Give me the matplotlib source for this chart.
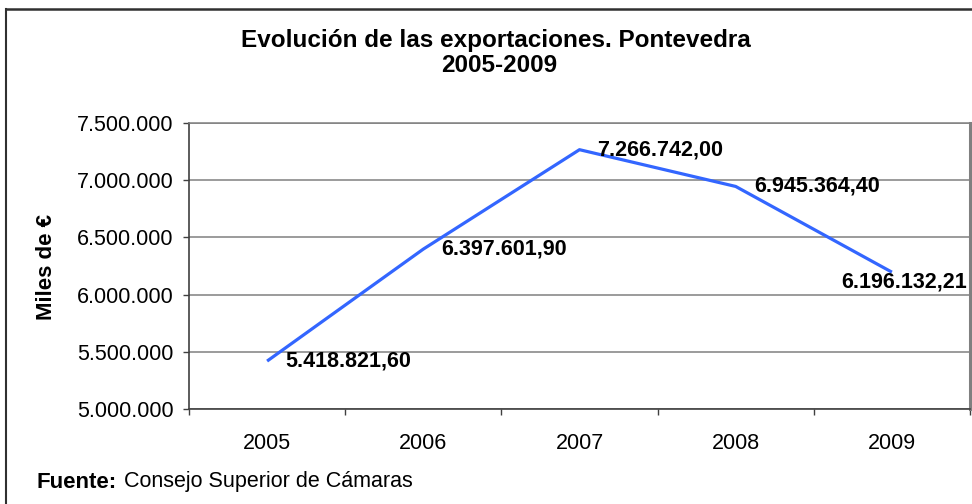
import matplotlib
matplotlib.use("Agg")
import matplotlib.pyplot as plt
from matplotlib.lines import Line2D
from matplotlib.ticker import FuncFormatter, FixedLocator

plt.rcParams['font.family'] = ['Liberation Sans', 'DejaVu Sans']

years = ["2005", "2006", "2007", "2008", "2009"]
values = [5418821.60, 6397601.90, 7266742.00, 6945364.40, 6196132.21]
labels = ["5.418.821,60", "6.397.601,90", "7.266.742,00", "6.945.364,40", "6.196.132,21"]
yticks = [5000000, 5500000, 6000000, 6500000, 7000000, 7500000]

W, H = 972, 504
fig = plt.figure(figsize=(W / 100, H / 100), dpi=100)
ax = fig.add_axes([189 / W, 1 - 409 / H, (970 - 189) / W, (409 - 123) / H])

x = list(range(len(years)))
ax.plot(x, values, color="#3366FF", lw=2.3, solid_capstyle="butt", zorder=3)

ax.set_xlim(-0.5, len(years) - 0.5)
ax.set_ylim(5000000, 7500000)
ax.set_yticks(yticks)
ax.yaxis.set_major_formatter(FuncFormatter(lambda v, p: f"{int(v):,}".replace(",", ".")))
ax.grid(axis="y", color="#808080", lw=1.1, zorder=1)

ax.set_xticks(x)
ax.set_xticklabels(years)
ax.xaxis.set_minor_locator(FixedLocator([i - 0.5 for i in range(len(years) + 1)]))
ax.tick_params(axis="x", which="major", length=0, pad=17, labelsize=15.5, colors="black")
ax.tick_params(axis="x", which="minor", length=4.3, width=1, direction="out", color="#404040")
ax.tick_params(axis="y", length=4.3, width=1, direction="out", pad=7, labelsize=15.5, color="#404040")

for s in ["left", "bottom"]:
    ax.spines[s].set_color("#404040")
    ax.spines[s].set_linewidth(1.2)
ax.spines["top"].set_color("#808080")
ax.spines["top"].set_linewidth(1.1)
ax.spines["right"].set_color("#808080")
ax.spines["right"].set_linewidth(2.2)

# data labels
offsets = [(13, 0, "left"), (13, 0, "left"), (13, 0, "left"), (13, 0, "left"), (54, -7, "right")]
for xi, v, lab, (dx, dy, ha) in zip(x, values, labels, offsets):
    ax.annotate(lab, (xi, v), xytext=(dx, dy), textcoords="offset points",
                ha=ha, va="center", fontsize=15.5, fontweight="bold", zorder=4,
                annotation_clip=False)

fig.text(496 / W, 1 - 41 / H, "Evolución de las exportaciones. Pontevedra",
         ha="center", va="center", fontsize=17.5, fontweight="bold")
fig.text(499 / W, 1 - 66 / H, "2005-2009",
         ha="center", va="center", fontsize=17.5, fontweight="bold")

fig.text(47 / W, 1 - 267 / H, "Miles de €", rotation=90, ha="center", va="center",
         fontsize=16, fontweight="bold")

fig.text(36 / W, 1 - 482 / H, "Fuente:", ha="left", va="center", fontsize=16, fontweight="bold")
fig.text(124 / W, 1 - 482 / H, "Consejo Superior de Cámaras", ha="left", va="center", fontsize=15.5)

# outer frame
fig.add_artist(Line2D([6 / W, 6 / W], [0, 1 - 9 / H], transform=fig.transFigure, color="#303030", lw=1.5))
fig.add_artist(Line2D([6 / W, 1], [1 - 9 / H, 1 - 9 / H], transform=fig.transFigure, color="#303030", lw=1.8))

fig.savefig("out.png", dpi=100)
